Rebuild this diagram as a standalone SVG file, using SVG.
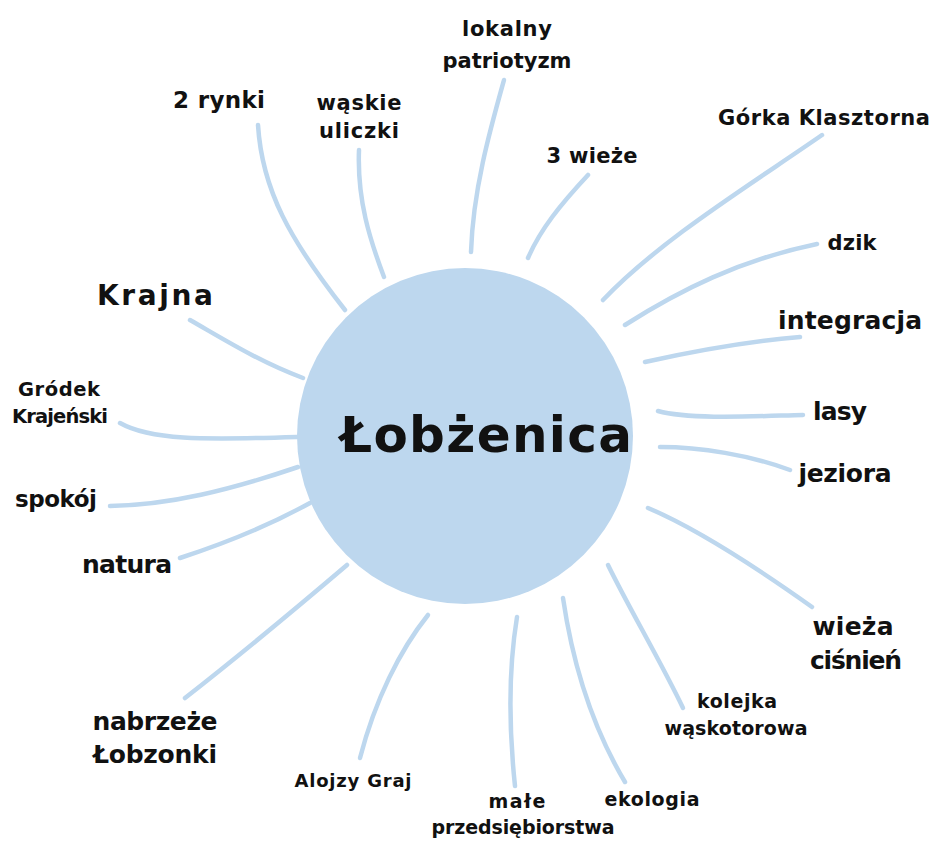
<svg xmlns="http://www.w3.org/2000/svg" width="932" height="844" viewBox="0 0 932 844">
<style>
.c{fill:none;stroke:#bdd7ee;stroke-width:4.5;stroke-linecap:round}
text{font-family:"DejaVu Sans","Open Sans",sans-serif;font-weight:700;fill:#111;text-anchor:middle}
.s19{font-size:18px}.s20{font-size:19px}.s22{font-size:21px}.s24{font-size:23px}.s26{font-size:25px}
</style>
<rect width="932" height="844" fill="#fff"/>
<g id="connectors">
<path class="c" d="M258,125 C262,190 290,240 345,310"/>
<path class="c" d="M359,150 C357,200 370,240 384,277"/>
<path class="c" d="M504,80 C490,130 473,190 471,252"/>
<path class="c" d="M588,175 C560,205 540,230 528,258"/>
<path class="c" d="M822,135 C750,185 660,240 603,300"/>
<path class="c" d="M817,244 C740,260 680,290 625,325"/>
<path class="c" d="M800,337 C740,342 690,352 645,362"/>
<path class="c" d="M803,415 C760,416 690,420 658,411"/>
<path class="c" d="M790,470 C750,455 700,447 660,447"/>
<path class="c" d="M812,607 C760,570 700,530 648,508"/>
<path class="c" d="M683,708 C660,660 630,610 608,565"/>
<path class="c" d="M625,782 C600,740 575,680 563,598"/>
<path class="c" d="M515,786 C508,720 510,660 517,617"/>
<path class="c" d="M360,758 C375,700 400,650 428,615"/>
<path class="c" d="M185,698 C240,655 300,605 347,565"/>
<path class="c" d="M180,558 C220,545 270,525 310,503"/>
<path class="c" d="M110,506 C170,505 230,490 298,467"/>
<path class="c" d="M120,423 C150,440 200,440 297,437"/>
<path class="c" d="M190,320 C225,340 260,362 303,378"/>
</g>
<g id="center"><circle cx="465" cy="436" r="168" fill="#bdd7ee"/><text x="486" y="452" style="font-size:50px" textLength="292">Łobżenica</text></g>
<g id="n-2rynki"><text class="s24" x="219" y="108" textLength="92">2 rynki</text></g>
<g id="n-waskie"><text class="s22" x="359" y="110" textLength="85">wąskie</text><text class="s22" x="359" y="138" textLength="80">uliczki</text></g>
<g id="n-lokalny"><text class="s22" x="507" y="36" textLength="90">lokalny</text><text class="s22" x="507" y="68" textLength="129">patriotyzm</text></g>
<g id="n-3wieze"><text class="s22" x="592" y="163" textLength="91">3 wieże</text></g>
<g id="n-gorka"><text style="font-size:21px" x="824" y="125" textLength="212">Górka Klasztorna</text></g>
<g id="n-dzik"><text class="s22" x="852" y="250" textLength="49">dzik</text></g>
<g id="n-integracja"><text class="s26" x="850" y="329" textLength="144">integracja</text></g>
<g id="n-lasy"><text class="s26" x="840" y="420" textLength="54">lasy</text></g>
<g id="n-jeziora"><text class="s26" x="845" y="482" textLength="93">jeziora</text></g>
<g id="n-wieza"><text class="s26" x="853" y="635" textLength="81">wieża</text><text class="s26" x="856" y="669" textLength="92">ciśnień</text></g>
<g id="n-kolejka"><text class="s20" x="737" y="708" textLength="80">kolejka</text><text class="s20" x="736" y="735" textLength="143">wąskotorowa</text></g>
<g id="n-ekologia"><text class="s20" x="652" y="806" textLength="95">ekologia</text></g>
<g id="n-male"><text class="s20" x="517" y="808" textLength="57">małe</text><text class="s20" x="523" y="834" textLength="183">przedsiębiorstwa</text></g>
<g id="n-alojzy"><text class="s19" x="353" y="787" textLength="117">Alojzy Graj</text></g>
<g id="n-nabrzeze"><text class="s26" x="155" y="730" textLength="125">nabrzeże</text><text class="s26" x="155" y="763" textLength="124">Łobzonki</text></g>
<g id="n-natura"><text class="s26" x="127" y="573" textLength="90">natura</text></g>
<g id="n-spokoj"><text class="s24" x="56" y="507" textLength="82">spokój</text></g>
<g id="n-grodek"><text style="font-size:19.5px" x="59" y="396" textLength="82">Gródek</text><text style="font-size:19.5px" x="60" y="423" textLength="96">Krajeński</text></g>
<g id="n-krajna"><text style="font-size:28px" x="155" y="305" textLength="116">Krajna</text></g>
</svg>
